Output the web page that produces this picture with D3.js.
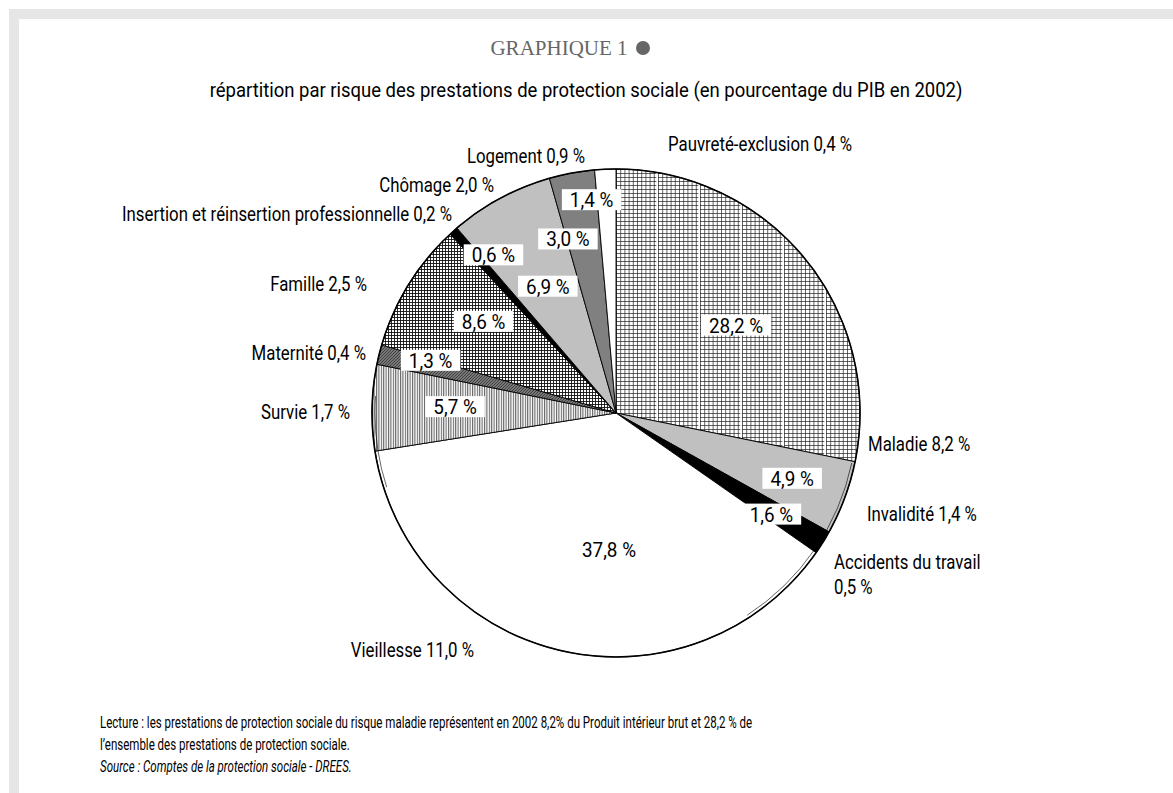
<!DOCTYPE html>
<meta charset="utf-8">
<style>
body { margin: 0; background: #fff; }
svg { display: block; }
.cond { font-family: Roboto, "Liberation Sans", sans-serif; font-weight: 400; }
</style>
<svg width="1173" height="793"></svg>
<script src="https://d3js.org/d3.v7.min.js"></script>
<script>

// parts of total benefits (%) and share of GDP (%)
var risks = ["Maladie", "Invalidité", "Accidents du travail", "Vieillesse", "Survie", "Maternité",
             "Famille", "Insertion et réinsertion professionnelle", "Chômage", "Logement", "Pauvreté-exclusion"];
var shares = [28.2, 4.9, 1.6, 37.8, 5.7, 1.3, 8.6, 0.6, 6.9, 3.0, 1.4];
var pib = ["8,2", "1,4", "0,5", "11,0", "1,7", "0,4", "2,5", "0,2", "2,0", "0,9", "0,4"];

var fills = ["url(#pMaladie)", "#c0c0c0", "#000", "#fff", "url(#pSurvie)", "url(#pMaternite)",
             "url(#pFamille)", "#000", "#c0c0c0", "#808080", "#fff"];

// inside label: radius fraction, angle nudge (deg)
var inLab = [[0.61, 3], [0.77, 0], [0.76, 1], [0.56, -10], [0.66, 1], [0.79, 2],
             [0.66, 3], [0.82, 4], [0.59, 0], [0.74, -5], [0.88, -4]];
// outside label: dx, dy from centre, anchor
var outLab = [[252, 30, "start"], [251, 100, "start"], [218, 148, "start"], [-142, 236, "end"],
              [-266, -2, "end"], [-250, -61, "end"], [-249, -130, "end"], [-164, -200, "end"],
              [-122, -229, "end"], [-31, -258, "end"], [52, -270, "start"]];

var svg = d3.select("svg"),
    cx = 616, cy = 413, r = 244,
    sx = 0.8,    // horizontal squeeze to mimic the condensed face
    sxIn = 0.9;  // figures inside the pie are a little wider

// frame
svg.append("rect").attr("x", 9).attr("y", 9).attr("width", 1164).attr("height", 10).attr("fill", "#e6e6e6");
svg.append("rect").attr("x", 9).attr("y", 9).attr("width", 10).attr("height", 784).attr("fill", "#e6e6e6");

var defs = svg.append("defs");
var p = defs.append("pattern").attr("id", "pMaladie").attr("patternUnits", "userSpaceOnUse")
    .attr("width", 42).attr("height", 4);
p.append("rect").attr("width", 42).attr("height", 4).attr("fill", "#fff");
p.append("path").attr("d", d3.range(0, 42, 4.2).map(function(x) { return "M" + (x + 0.5) + " 0V4"; }).join("") + "M0 0.5H42")
    .attr("stroke", "#222").attr("stroke-width", 0.7);
p.append("rect").attr("x", 40.3).attr("width", 1.7).attr("height", 4).attr("fill", "#fff");

p = defs.append("pattern").attr("id", "pFamille").attr("patternUnits", "userSpaceOnUse")
    .attr("width", 3).attr("height", 3);
p.append("rect").attr("width", 3).attr("height", 3).attr("fill", "#fff");
p.append("path").attr("d", "M0 0.5H3M0.5 0V3").attr("stroke", "#111").attr("stroke-width", 0.9);

p = defs.append("pattern").attr("id", "pSurvie").attr("patternUnits", "userSpaceOnUse")
    .attr("width", 2.4).attr("height", 40);
p.append("rect").attr("width", 2.4).attr("height", 40).attr("fill", "#fff");
p.append("path").attr("d", "M0.6 0V40").attr("stroke", "#111").attr("stroke-width", 0.8);

p = defs.append("pattern").attr("id", "pMaternite").attr("patternUnits", "userSpaceOnUse")
    .attr("width", 3).attr("height", 3);
p.append("rect").attr("width", 3).attr("height", 3).attr("fill", "#777");
p.append("path").attr("d", "M0 3L3 0").attr("stroke", "#333").attr("stroke-width", 0.8);

// condensed text helper
function ctext(parent, x, y, str, size, anchor, k) {
  return parent.append("text").attr("class", "cond")
      .attr("transform", "translate(" + x + "," + y + ") scale(" + (k || sx) + ",1)")
      .attr("text-anchor", anchor || "start")
      .attr("font-size", size)
      .text(str);
}

// titles
svg.append("text").attr("x", 559).attr("y", 55).attr("text-anchor", "middle")
    .attr("font-family", "Liberation Serif, serif").attr("font-size", 21).attr("fill", "#666")
    .text("GRAPHIQUE 1");
svg.append("circle").attr("cx", 643).attr("cy", 48).attr("r", 7).attr("fill", "#666");
ctext(svg, 586, 97, "répartition par risque des prestations de protection sociale (en pourcentage du PIB en 2002)", 21, "middle", 0.88);

// pie
var pie = d3.pie().sort(null).value(function(d) { return d; });
var arcs = pie(shares);
var arc = d3.arc().innerRadius(0).outerRadius(r);

var g = svg.append("g").attr("transform", "translate(" + cx + "," + cy + ")");
g.selectAll("path.slice").data(arcs).enter().append("path")
    .attr("class", "slice")
    .attr("d", arc)
    .attr("fill", function(d, i) { return fills[i]; })
    .attr("stroke", "#000").attr("stroke-width", 0.9).attr("stroke-linejoin", "round");
g.append("circle").attr("r", r).attr("fill", "none").attr("stroke", "#000").attr("stroke-width", 1.6);
// faint inner rim seen on parts of the edge
var rr2 = r - 3, deg = Math.PI * rr2 / 180;
g.append("circle").attr("r", rr2).attr("fill", "none").attr("stroke", "#000").attr("stroke-width", 0.6)
    .attr("stroke-dasharray", [0, 12 * deg, 45 * deg, 105 * deg, 22 * deg, 4000].join(" "));

// inside labels
function fmt(v) { return v.toFixed(1).replace(".", ",") + " %"; }
var lab = g.selectAll("g.lab").data(arcs).enter().append("g").attr("class", "lab")
    .attr("transform", function(d, i) {
      var a = (d.startAngle + d.endAngle) / 2 + inLab[i][1] * Math.PI / 180,
          rr = r * inLab[i][0];
      return "translate(" + (rr * Math.sin(a)) + "," + (-rr * Math.cos(a)) + ")";
    });
lab.each(function(d) {
  var gg = d3.select(this);
  var t = ctext(gg, 0, 7.5, fmt(d.value), 21, "middle", sxIn);
  var b = t.node().getBBox();
  gg.insert("rect", "text")
    .attr("x", b.x * sxIn - 8).attr("y", -10.5).attr("width", b.width * sxIn + 16).attr("height", 21)
    .attr("fill", "#fff");
});

// outside labels
arcs.forEach(function(d, i) {
  var o = outLab[i];
  if (i === 2) {
    ctext(g, o[0], o[1] + 7.5, risks[i], 21, o[2]);
    ctext(g, o[0], o[1] + 32.5, pib[i] + " %", 21, o[2]);
  } else {
    ctext(g, o[0], o[1] + 7.5, risks[i] + " " + pib[i] + " %", 21, o[2]);
  }
});

// footer
ctext(svg, 100, 728, "Lecture : les prestations de protection sociale du risque maladie représentent en 2002 8,2% du Produit intérieur brut et 28,2 % de", 16, "start", 0.72);
ctext(svg, 100, 750, "l’ensemble des prestations de protection sociale.", 16, "start", 0.72);
ctext(svg, 100, 772, "Source : Comptes de la protection sociale - DREES.", 16, "start", 0.72)
    .attr("font-style", "italic");

</script>
